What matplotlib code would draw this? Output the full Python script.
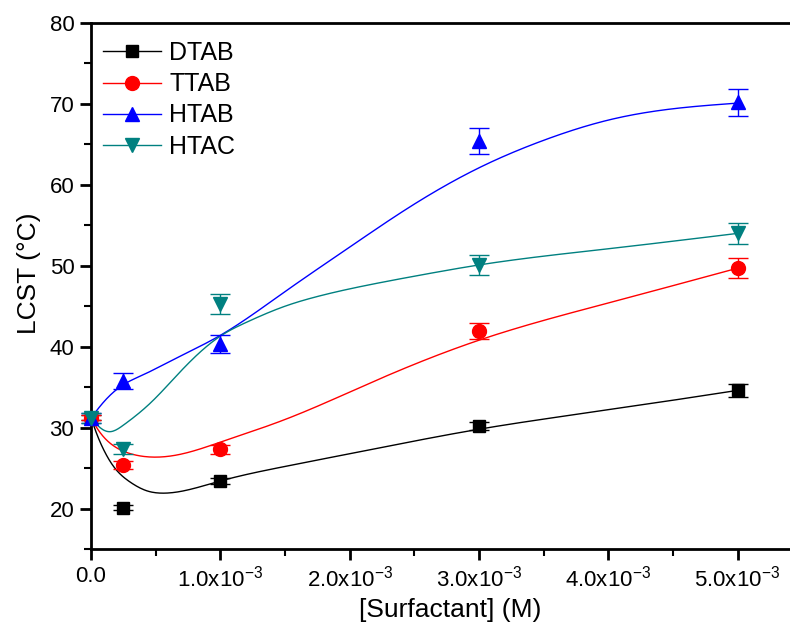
import numpy as np
import matplotlib
matplotlib.use("Agg")
import matplotlib.pyplot as plt
from matplotlib.lines import Line2D
from matplotlib.ticker import FixedLocator, MultipleLocator

plt.rcParams['font.family'] = ['Liberation Sans', 'DejaVu Sans']
plt.rcParams['mathtext.fontset'] = 'custom'
plt.rcParams['mathtext.rm'] = 'Liberation Sans'
plt.rcParams['mathtext.default'] = 'regular'

# ---- measured data (concentration in M, LCST in degC) ----
conc = [0.0, 0.25e-3, 1.0e-3, 3.0e-3, 5.0e-3]
dtab = [31.2, 20.1, 23.4, 30.2, 34.6]
ttab = [31.2, 25.4, 27.3, 41.9, 49.7]
htab = [31.2, 35.8, 40.3, 65.4, 70.2]
htac = [31.2, 27.4, 45.3, 50.1, 54.0]
dtab_err = [0.3, 0.3, 0.4, 0.5, 0.8]
ttab_err = [0.3, 0.5, 0.6, 1.0, 1.2]
htab_err = [0.6, 1.0, 1.1, 1.6, 1.7]
htac_err = [0.6, 0.6, 1.2, 1.2, 1.3]

# ---- fitted curves (x in units of 1e-3 M) ----
dtab_fit_x = [0, 0.05, 0.1, 0.17, 0.3, 0.43, 0.56, 0.8, 1.0, 1.5, 2.2, 3.0, 4.0, 5.0]
dtab_fit_y = [31.2, 29.0, 27.2, 25.3, 23.3, 22.2, 21.9, 22.5, 23.4, 25.2, 27.4, 29.8, 32.2, 34.6]
ttab_fit_x = [0, 0.044, 0.17, 0.3, 0.43, 0.69, 1.0, 1.5, 2.2, 3.0, 4.0, 5.0]
ttab_fit_y = [31.2, 30.0, 27.8, 26.8, 26.4, 26.7, 28.2, 31.0, 35.8, 40.8, 45.4, 49.7]
htab_fit_x = [0, 0.1, 0.25, 0.4, 0.6, 0.8, 1.0, 1.5, 2.0, 2.4, 3.0, 3.5, 4.0, 4.5, 5.0]
htab_fit_y = [31.2, 33.2, 35.3, 36.5, 38.1, 39.7, 41.4, 46.8, 52.3, 56.6, 62.1, 65.5, 68.0, 69.4, 70.1]
htac_fit_x = [0, 0.07, 0.15, 0.25, 0.47, 0.69, 1.0, 1.2, 1.5, 1.75, 2.2, 2.6, 3.0, 4.0, 5.0]
htac_fit_y = [31.2, 30.0, 29.5, 30.3, 33.2, 36.9, 41.3, 43.0, 45.0, 46.2, 47.8, 49.0, 50.1, 52.1, 54.0]

labels = ['DTAB', 'TTAB', 'HTAB', 'HTAC']
colors = ['black', '#ff0000', '#0000ff', '#008080']
markers = ['s', 'o', '^', 'v']
msizes = [9, 10, 10, 10]

xticks = [0, 1e-3, 2e-3, 3e-3, 4e-3, 5e-3]
xticklabels = ['0.0', '1.0x10$^{-3}$', '2.0x10$^{-3}$', '3.0x10$^{-3}$',
               '4.0x10$^{-3}$', '5.0x10$^{-3}$']
yticks = [20, 30, 40, 50, 60, 70, 80]


def natural_spline(xk, yk, xs):
    xk = np.asarray(xk, float)
    yk = np.asarray(yk, float)
    n = len(xk)
    h = np.diff(xk)
    A = np.zeros((n, n))
    b = np.zeros(n)
    A[0, 0] = 1
    A[-1, -1] = 1
    for i in range(1, n - 1):
        A[i, i - 1] = h[i - 1]
        A[i, i] = 2 * (h[i - 1] + h[i])
        A[i, i + 1] = h[i]
        b[i] = 3 * ((yk[i + 1] - yk[i]) / h[i] - (yk[i] - yk[i - 1]) / h[i - 1])
    c = np.linalg.solve(A, b)
    out = np.empty_like(xs)
    idx = np.clip(np.searchsorted(xk, xs) - 1, 0, n - 2)
    for j, x in enumerate(xs):
        i = idx[j]
        dx = x - xk[i]
        bi = (yk[i + 1] - yk[i]) / h[i] - h[i] * (2 * c[i] + c[i + 1]) / 3
        di = (c[i + 1] - c[i]) / (3 * h[i])
        out[j] = yk[i] + bi * dx + c[i] * dx ** 2 + di * dx ** 3
    return out


fig = plt.figure(figsize=(7.9, 6.33), dpi=100)
ax = fig.add_axes([91 / 790, (633 - 549) / 633, 699 / 790, (549 - 23) / 633])

series = [dtab, ttab, htab, htac]
errs = [dtab_err, ttab_err, htab_err, htac_err]
fits = [(dtab_fit_x, dtab_fit_y), (ttab_fit_x, ttab_fit_y),
        (htab_fit_x, htab_fit_y), (htac_fit_x, htac_fit_y)]

for ys, es, (fx, fy), c, m, ms in zip(series, errs, fits, colors, markers, msizes):
    xs = np.linspace(0, 5.0, 500)
    ax.plot(xs * 1e-3, natural_spline(fx, fy, xs), color=c, lw=1.0, zorder=2)
    ax.errorbar(conc, ys, yerr=es, fmt=m, color=c, ms=ms, mec=c, mfc=c,
                ecolor=c, elinewidth=1.0, capsize=7, capthick=1.0, zorder=3,
                clip_on=False)

ax.set_xlim(0, 699 / 129.3 * 1e-3)
ax.set_ylim(15, 80)

ax.xaxis.set_major_locator(FixedLocator(xticks))
ax.set_xticklabels(xticklabels)
ax.xaxis.set_minor_locator(MultipleLocator(0.5e-3))
ax.yaxis.set_major_locator(FixedLocator(yticks))
ax.yaxis.set_minor_locator(MultipleLocator(5))

for s in ['left', 'bottom', 'top']:
    ax.spines[s].set_linewidth(2.0)
ax.spines['right'].set_visible(False)
ax.tick_params(which='major', direction='out', length=8, width=2.0,
               labelsize=16, top=False, right=False, pad=4)
ax.tick_params(which='minor', direction='out', length=5, width=1.5,
               top=False, right=False)

ax.set_xlabel('[Surfactant] (M)', fontsize=19)
ax.set_ylabel('LCST (\u00b0C)', fontsize=19)
ax.xaxis.set_label_coords(0.514, -0.093)
ax.yaxis.set_label_coords(-0.072, 0.525)

handles = [Line2D([0], [0], color=c, lw=1.0, marker=m, ms=ms, mfc=c, mec=c)
           for c, m, ms in zip(colors, markers, msizes)]
ax.legend(handles, labels, loc='upper left', bbox_to_anchor=(103 / 790, 1 - 41 / 633),
          bbox_transform=fig.transFigure, frameon=False, fontsize=18,
          handlelength=2.32, handletextpad=0.32, labelspacing=0.29,
          borderaxespad=0, borderpad=0)

fig.savefig('out.png', dpi=100)
